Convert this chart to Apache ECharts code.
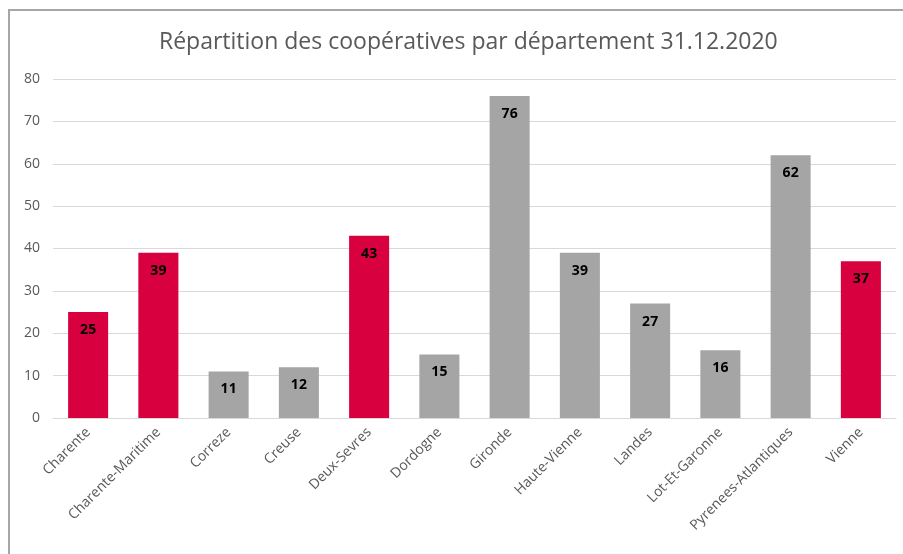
<!DOCTYPE html>
<html lang="fr">
<head>
    <meta charset="utf-8">
    <title>Répartition des coopératives</title>
    <script src="https://cdn.jsdelivr.net/npm/echarts@6/dist/echarts.min.js"></script>
    <style>
        html, body { margin: 0; padding: 0; background: #fff; }
        #chart { width: 903px; height: 554px; }
    </style>
</head>
<body>
    <div id="chart"></div>
    <script>
        // data
        const departements = ['Charente', 'Charente-Maritime', 'Correze', 'Creuse', 'Deux-Sevres', 'Dordogne',
            'Gironde', 'Haute-Vienne', 'Landes', 'Lot-Et-Garonne', 'Pyrenees-Atlantiques', 'Vienne'];
        const cooperatives = [25, 39, 11, 12, 43, 15, 76, 39, 27, 16, 62, 37];
        // departements of the former Poitou-Charentes are highlighted
        const highlighted = [true, true, false, false, true, false, false, false, false, false, false, true];

        const RED = '#D9003F';
        const GREY = '#A5A5A5';
        const FONT = '"Open Sans", "Liberation Sans", sans-serif';

        const chart = echarts.init(document.getElementById('chart'));

        chart.setOption({
            animation: false,
            title: {
                text: 'Répartition des coopératives par département 31.12.2020',
                left: 154,
                top: 26,
                textStyle: { fontFamily: FONT, fontSize: 23, fontWeight: 'normal', color: '#595959' }
            },
            graphic: [{
                type: 'rect',
                shape: { x: 9, y: 10, width: 1000, height: 700 },
                style: { fill: 'none', stroke: '#A6A6A6', lineWidth: 2 },
                silent: true
            }],
            grid: { left: 53, right: 7, top: 79, bottom: 136 },
            xAxis: {
                type: 'category',
                data: departements,
                axisLine: { lineStyle: { color: '#D9D9D9', width: 1 } },
                axisTick: { show: false },
                axisLabel: {
                    interval: 0, rotate: 45, margin: 12,
                    fontFamily: FONT, fontSize: 14, color: '#595959'
                }
            },
            yAxis: {
                type: 'value',
                min: 0, max: 80, interval: 10,
                axisLine: { show: false },
                axisTick: { show: false },
                axisLabel: { margin: 13, fontFamily: FONT, fontSize: 14, color: '#595959' },
                splitLine: { lineStyle: { color: '#D9D9D9', width: 1 } }
            },
            series: [{
                type: 'bar',
                barWidth: '57%',
                data: cooperatives.map((v, i) => ({
                    value: v,
                    itemStyle: { color: highlighted[i] ? RED : GREY }
                })),
                label: {
                    show: true,
                    position: 'insideTop',
                    distance: 11,
                    fontFamily: FONT, fontSize: 14, fontWeight: 'bold', color: '#000'
                }
            }]
        });
    </script>
</body>
</html>
